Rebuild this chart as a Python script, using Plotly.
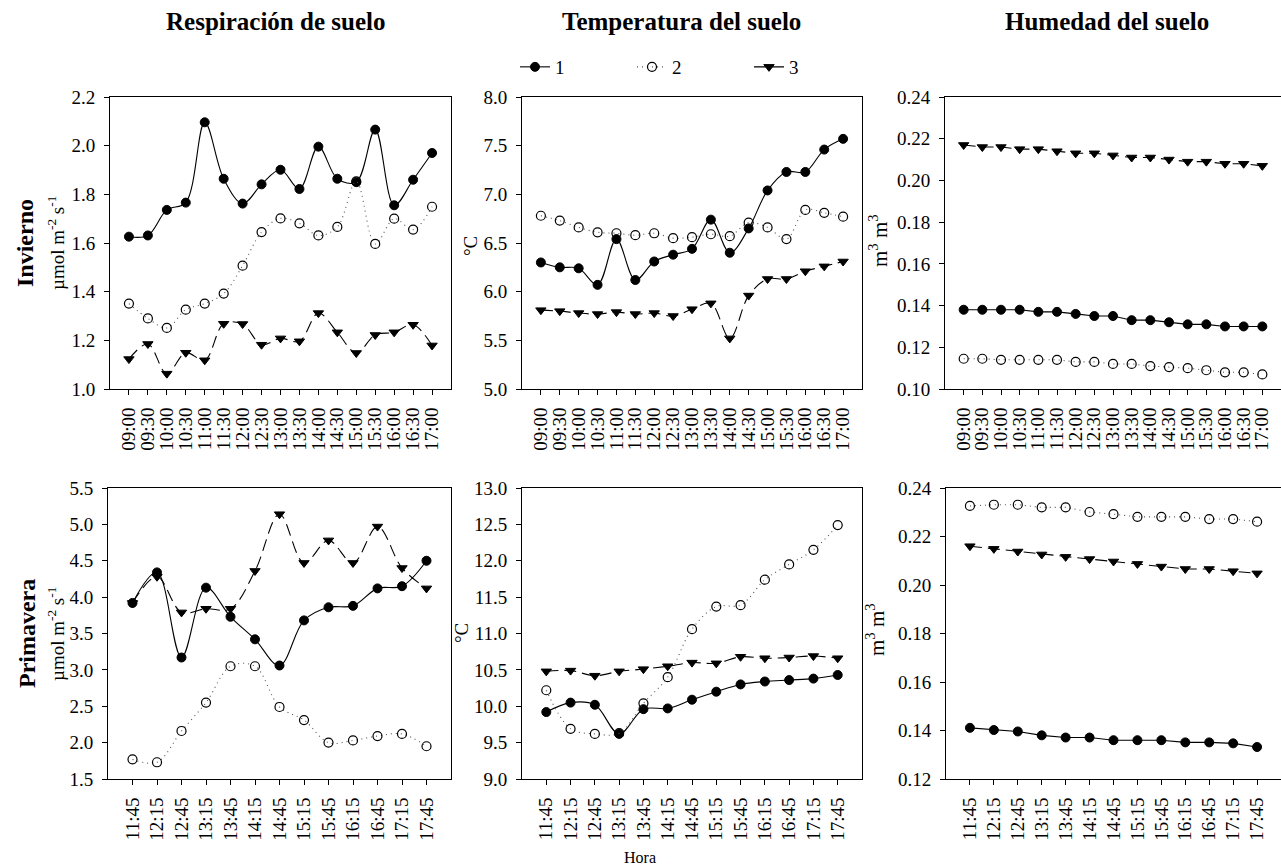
import plotly.graph_objects as go

# ---------------- data ----------------
times_w = ["09:00", "09:30", "10:00", "10:30", "11:00", "11:30", "12:00", "12:30", "13:00",
           "13:30", "14:00", "14:30", "15:00", "15:30", "16:00", "16:30", "17:00"]
times_p = ["11:45", "12:15", "12:45", "13:15", "13:45", "14:15", "14:45", "15:15", "15:45",
           "16:15", "16:45", "17:15", "17:45"]
series_names = ["1", "2", "3"]

# Invierno - respiración (µmol m-2 s-1)
resp_w_1 = [1.626, 1.631, 1.736, 1.766, 2.096, 1.864, 1.762, 1.841, 1.901, 1.822, 1.996, 1.864,
            1.850, 2.066, 1.755, 1.860, 1.970]
resp_w_2 = [1.351, 1.290, 1.251, 1.326, 1.351, 1.392, 1.507, 1.645, 1.701, 1.681, 1.631, 1.666,
            1.853, 1.596, 1.700, 1.655, 1.749]
resp_w_3 = [1.123, 1.185, 1.063, 1.149, 1.118, 1.268, 1.267, 1.182, 1.208, 1.196, 1.312, 1.233,
            1.148, 1.222, 1.233, 1.264, 1.179]
# Invierno - temperatura (°C)
temp_w_1 = [6.30, 6.25, 6.24, 6.07, 6.54, 6.12, 6.31, 6.38, 6.44, 6.74, 6.40, 6.65, 7.04, 7.23,
            7.23, 7.46, 7.57]
temp_w_2 = [6.78, 6.73, 6.66, 6.61, 6.60, 6.58, 6.60, 6.55, 6.56, 6.59, 6.57, 6.71, 6.66, 6.54,
            6.84, 6.81, 6.77]
temp_w_3 = [5.81, 5.80, 5.78, 5.77, 5.79, 5.77, 5.78, 5.75, 5.82, 5.88, 5.52, 5.96, 6.13, 6.13,
            6.21, 6.26, 6.31]
# Invierno - humedad (m3 m3)
hum_w_1 = [0.138, 0.138, 0.138, 0.138, 0.137, 0.137, 0.136, 0.135, 0.135, 0.133, 0.133, 0.132,
           0.131, 0.131, 0.130, 0.130, 0.130]
hum_w_2 = [0.1145, 0.1145, 0.114, 0.114, 0.114, 0.114, 0.113, 0.113, 0.112, 0.112, 0.111, 0.1105,
           0.110, 0.109, 0.108, 0.108, 0.107]
hum_w_3 = [0.217, 0.216, 0.216, 0.215, 0.215, 0.214, 0.213, 0.213, 0.212, 0.211, 0.211, 0.210,
           0.209, 0.209, 0.208, 0.208, 0.207]

# Primavera - respiración
resp_p_1 = [3.92, 4.34, 3.17, 4.13, 3.73, 3.42, 3.06, 3.68, 3.86, 3.88, 4.12, 4.15, 4.50]
resp_p_2 = [1.77, 1.73, 2.16, 2.55, 3.05, 3.05, 2.49, 2.31, 2.00, 2.03, 2.09, 2.12, 1.95]
resp_p_3 = [3.92, 4.28, 3.79, 3.84, 3.84, 4.36, 5.14, 4.47, 4.78, 4.47, 4.97, 4.40, 4.12]
# Primavera - temperatura
temp_p_1 = [9.92, 10.05, 10.02, 9.62, 9.96, 9.97, 10.09, 10.20, 10.30, 10.34, 10.36, 10.38, 10.43]
temp_p_2 = [10.22, 9.69, 9.62, 9.63, 10.04, 10.40, 11.06, 11.37, 11.39, 11.74, 11.95, 12.15, 12.49]
temp_p_3 = [10.48, 10.49, 10.42, 10.48, 10.51, 10.55, 10.60, 10.59, 10.68, 10.66, 10.67, 10.69, 10.66]
# Primavera - humedad
hum_p_1 = [0.1411, 0.1402, 0.1396, 0.1380, 0.1371, 0.1371, 0.1360, 0.1360, 0.1360, 0.1351, 0.1351,
           0.1347, 0.1332]
hum_p_2 = [0.2326, 0.2331, 0.2331, 0.2320, 0.2320, 0.2301, 0.2292, 0.2281, 0.2281, 0.2281, 0.2272,
           0.2272, 0.2261]
hum_p_3 = [0.2160, 0.2149, 0.2138, 0.2126, 0.2116, 0.2107, 0.2097, 0.2087, 0.2076, 0.2066, 0.2066,
           0.2057, 0.2048]

col_titles = ["Respiración de suelo", "Temperatura del suelo", "Humedad del suelo"]
row_titles = ["Invierno", "Primavera"]

# ---------------- styling ----------------
FONT = "Liberation Serif, Times New Roman, serif"
TICK_SIZE = 19

styles = [
    dict(line=dict(color="black", width=1.1, dash="solid"),
         marker=dict(symbol="circle", size=9, color="black", line=dict(color="black", width=1))),
    dict(line=dict(color="#555555", width=1.1, dash="1px,4px"),
         marker=dict(symbol="circle-open", size=9, color="black", line=dict(color="black", width=1.2))),
    dict(line=dict(color="black", width=1.1, dash="12px,6px"),
         marker=dict(symbol="triangle-down", size=9, color="black", line=dict(color="black", width=1))),
]

W, H = 1281, 867
def px_x(p):
    return p / W
def px_y(p):
    return 1 - p / H

row_dom = [[px_y(389), px_y(97)], [px_y(779), px_y(488)]]
col_dom = [[[px_x(110), px_x(451)], [px_x(522), px_x(862)], [px_x(945), 1.0]],
           [[px_x(108), px_x(451)], [px_x(522), px_x(862)], [px_x(946), 1.0]]]

panels = [
    # row, col, times, series list, y range, dtick, fmt, spline
    (0, 0, times_w, [resp_w_1, resp_w_2, resp_w_3], [1.0, 2.2], 0.2, ".1f", True),
    (0, 1, times_w, [temp_w_1, temp_w_2, temp_w_3], [5.0, 8.0], 0.5, ".1f", True),
    (0, 2, times_w, [hum_w_1, hum_w_2, hum_w_3], [0.10, 0.24], 0.02, ".2f", False),
    (1, 0, times_p, [resp_p_1, resp_p_2, resp_p_3], [1.5, 5.5], 0.5, ".1f", True),
    (1, 1, times_p, [temp_p_1, temp_p_2, temp_p_3], [9.0, 13.0], 0.5, ".1f", True),
    (1, 2, times_p, [hum_p_1, hum_p_2, hum_p_3], [0.12, 0.24], 0.02, ".2f", False),
]

fig = go.Figure()
layout = {}
for i, (r, c, times, series, yr, dt, fmt, spline) in enumerate(panels):
    n = i + 1
    xa = "x" if n == 1 else f"x{n}"
    ya = "y" if n == 1 else f"y{n}"
    xidx = list(range(len(times)))
    for k, vals in enumerate(series):
        st = styles[k]
        line = dict(st["line"])
        if spline:
            line["shape"] = "spline"
            line["smoothing"] = 1.0
        fig.add_trace(go.Scatter(
            x=xidx, y=vals, mode="lines+markers", name=series_names[k],
            line=line, marker=st["marker"], xaxis=xa, yaxis=ya,
            showlegend=(n == 1), cliponaxis=False))
    axis_common = dict(showline=True, linecolor="black", linewidth=1, mirror=True,
                       ticks="outside", ticklen=5, tickcolor="black", tickwidth=1,
                       showgrid=False, zeroline=False, automargin=False,
                       tickfont=dict(family=FONT, size=TICK_SIZE, color="black"))
    layout["xaxis" if n == 1 else f"xaxis{n}"] = dict(
        axis_common, domain=col_dom[r][c], anchor=ya, range=[-1, len(times)],
        tickmode="array", tickvals=xidx, ticktext=times, tickangle=-90,
        ticklabelstandoff=5)
    layout["yaxis" if n == 1 else f"yaxis{n}"] = dict(
        axis_common, domain=row_dom[r], anchor=xa, range=yr,
        tickmode="linear", tick0=yr[0], dtick=dt, tickformat=fmt,
        ticklabelstandoff=5)

fig.update_layout(**layout)

def label(text, x, y, size, angle=0):
    return dict(text=text, x=px_x(x), y=px_y(y), xref="paper", yref="paper",
                xanchor="center", yanchor="middle", showarrow=False, textangle=angle,
                font=dict(family=FONT, size=size, color="black"))

ann = []
for x_c, t in zip([275, 681, 1107], col_titles):
    ann.append(label(f"<b>{t}</b>", x_c, 22, 25))
for y_c, t, xl in zip([243, 634], row_titles, [25, 27]):
    ann.append(label(f"<b>{t}</b>", xl, y_c, 24, -90))
    ann.append(label("µmol m<sup>-2</sup> s<sup>-1</sup>", 56, y_c, 19, -90))
for y_c, xl in zip([246, 633], [470, 461]):
    ann.append(label("°C", xl, y_c, 19, -90))
for y_c, xl in zip([241, 630], [879, 875]):
    ann.append(label("m<sup>3</sup> m<sup>3</sup>", xl, y_c, 21, -90))
ann.append(label("Hora", 640, 857, 16))

fig.update_layout(
    width=W, height=H, margin=dict(l=0, r=0, t=0, b=0, pad=0, autoexpand=False),
    paper_bgcolor="white", plot_bgcolor="white",
    font=dict(family=FONT, color="black"),
    annotations=ann,
    legend=dict(orientation="h", x=px_x(515), xanchor="left", y=px_y(67), yanchor="middle",
                font=dict(family=FONT, size=19, color="black"),
                entrywidth=72, entrywidthmode="pixels", bgcolor="rgba(0,0,0,0)"),
)

fig.write_html("out.html", config={"displayModeBar": False},
               post_script="document.body.style.margin='0';document.body.style.overflow='hidden';")
